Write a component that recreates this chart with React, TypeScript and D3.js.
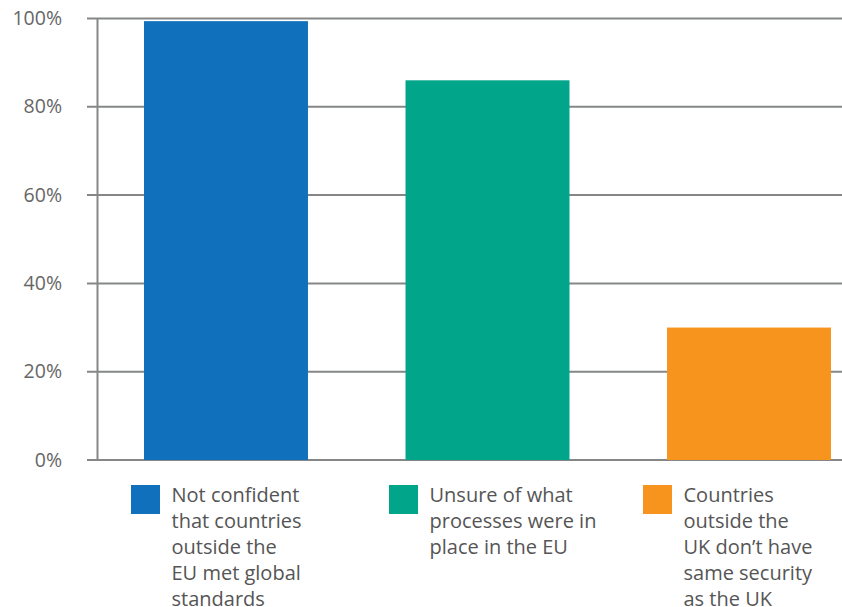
import React from "react";
import * as d3 from "d3";

const categories = ["Not confident that countries outside the EU met global standards", "Unsure of what processes were in place in the EU", "Countries outside the UK don't have same security as the UK"];
const values = [99.4, 86, 30];
const colors = ["#1070bb", "#00a58a", "#f7941e"];
const legendLines = [
  ["Not confident", "that countries", "outside the", "EU met global", "standards"],
  ["Unsure of what", "processes were in", "place in the EU"],
  ["Countries", "outside the", "UK don\u2019t have", "same security", "as the UK"],
];
const ticks = [0, 20, 40, 60, 80, 100];

export default function App() {
  const W = 842, H = 607;
  const y = d3.scaleLinear().domain([0, 100]).range([460, 18.5]);
  const x = d3.scaleBand<string>().domain(categories).range([144, 831]).paddingInner(0.373).paddingOuter(0);
  const legendX = [131, 389, 643];
  const font = "'Open Sans', sans-serif";
  return (
    <svg width={W} height={H} style={{ position: "absolute", left: 0, top: 0 }}>
      {ticks.map((t) => (
        <g key={t}>
          <line x1={87} x2={842} y1={y(t)} y2={y(t)} stroke="#858787" strokeWidth={2} />
          <text x={62} y={y(t) + 6.5} textAnchor="end" fontFamily={font} fontSize={19.5} fill="#666">{t}%</text>
        </g>
      ))}
      <line x1={97.5} x2={97.5} y1={y(100)} y2={y(0)} stroke="#858787" strokeWidth={2} />
      {categories.map((c, i) => (
        <rect key={c} x={x(c)} y={y(values[i])} width={x.bandwidth()} height={y(0) - y(values[i])} fill={colors[i]} />
      ))}
      {categories.map((c, i) => (
        <g key={"l" + i}>
          <rect x={legendX[i]} y={485} width={29} height={29} fill={colors[i]} />
          {legendLines[i].map((ln, j) => (
            <text key={j} x={legendX[i] + 40.5} y={502.3 + j * 25.8} fontFamily={font} fontSize={20} fill="#555">{ln}</text>
          ))}
        </g>
      ))}
    </svg>
  );
}
